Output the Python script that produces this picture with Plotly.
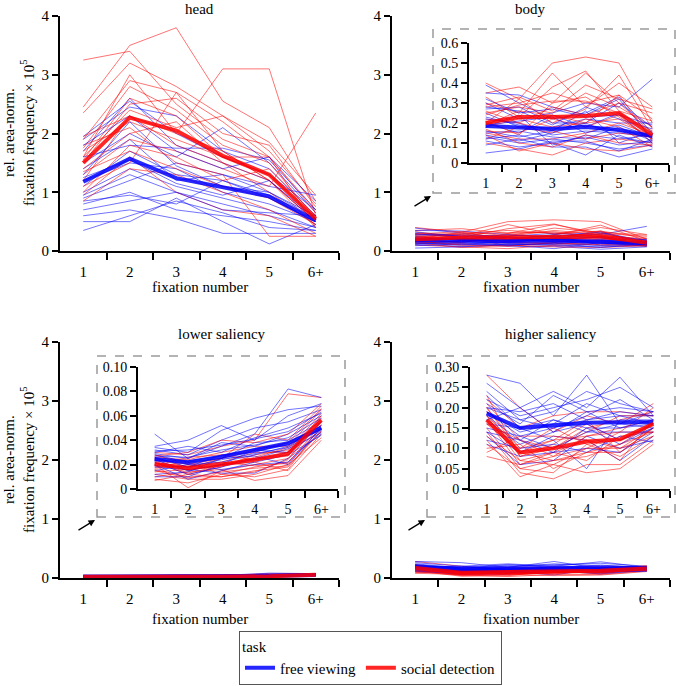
import plotly.graph_objects as go

W, H = 676, 686
FONT = "Liberation Serif"

fixation_labels = ["1", "2", "3", "4", "5", "6+"]
tasks = ["free viewing", "social detection"]

# ---- head ----
head_social = [
    [3.25, 3.40, 2.50, 1.90, 1.60, 0.70],
    [2.45, 3.50, 3.80, 2.55, 2.10, 0.85],
    [1.95, 2.30, 2.00, 3.10, 3.10, 0.60],
    [2.35, 3.20, 2.80, 2.30, 1.85, 0.95],
    [1.90, 2.90, 2.70, 2.20, 1.60, 0.65],
    [1.75, 2.80, 2.40, 1.80, 1.50, 0.55],
    [1.60, 3.00, 2.00, 1.70, 1.20, 0.40],
    [1.50, 2.50, 2.60, 2.00, 1.80, 0.75],
    [1.10, 1.50, 2.70, 1.70, 1.20, 0.50],
    [1.30, 1.90, 1.70, 1.40, 1.10, 2.35],
    [1.70, 2.20, 1.90, 1.60, 1.30, 0.55],
    [1.40, 2.00, 2.20, 1.50, 1.00, 0.45],
    [1.00, 1.80, 1.60, 1.20, 1.40, 0.60],
    [0.85, 1.40, 1.30, 1.00, 0.70, 0.30],
    [1.20, 2.30, 1.80, 1.50, 1.20, 0.50],
    [1.55, 2.60, 2.30, 1.60, 1.60, 0.40],
    [0.95, 1.60, 1.00, 0.70, 0.60, 0.25],
    [1.80, 2.10, 1.50, 1.30, 0.25, 0.25],
    [1.35, 1.70, 1.40, 1.10, 0.90, 0.45],
    [1.60, 2.40, 2.10, 2.30, 1.70, 0.80],
]
head_free = [
    [1.95, 2.55, 2.00, 1.60, 1.30, 0.70],
    [1.90, 2.45, 2.30, 1.70, 1.40, 0.60],
    [1.70, 2.60, 1.80, 1.50, 1.20, 0.50],
    [1.50, 2.00, 1.60, 2.10, 1.50, 0.65],
    [1.60, 1.80, 1.75, 1.75, 1.55, 0.70],
    [1.40, 1.90, 1.20, 1.30, 1.10, 0.95],
    [1.20, 1.50, 1.40, 1.00, 0.80, 0.50],
    [1.10, 1.70, 1.30, 1.20, 0.95, 0.45],
    [1.00, 1.40, 1.10, 0.90, 0.70, 0.40],
    [0.90, 1.20, 1.50, 1.30, 1.00, 0.55],
    [0.85, 0.95, 0.80, 1.20, 0.90, 0.50],
    [0.80, 1.00, 0.70, 0.60, 0.50, 0.35],
    [0.70, 0.85, 1.00, 0.80, 0.60, 0.40],
    [0.60, 0.70, 0.55, 0.30, 0.30, 0.30],
    [0.50, 0.50, 0.90, 0.50, 0.12, 0.45],
    [0.35, 0.60, 0.85, 0.65, 0.40, 0.35],
    [1.30, 2.20, 1.45, 1.10, 1.00, 0.60],
    [1.25, 1.55, 1.15, 0.95, 1.20, 0.55],
    [0.95, 1.30, 1.00, 0.70, 0.65, 0.60],
    [1.80, 2.30, 1.70, 1.40, 1.60, 0.85],
]
head_social_mean = [1.50, 2.27, 2.05, 1.62, 1.30, 0.55]
head_free_mean = [1.18, 1.57, 1.24, 1.09, 0.93, 0.52]

# ---- body ----
body_social = [
    [0.40, 0.32, 0.50, 0.53, 0.50, 0.20],
    [0.35, 0.38, 0.30, 0.45, 0.30, 0.25],
    [0.30, 0.25, 0.45, 0.28, 0.40, 0.28],
    [0.28, 0.30, 0.35, 0.30, 0.34, 0.22],
    [0.25, 0.28, 0.25, 0.35, 0.28, 0.18],
    [0.22, 0.20, 0.28, 0.24, 0.30, 0.15],
    [0.20, 0.32, 0.20, 0.27, 0.44, 0.17],
    [0.18, 0.22, 0.18, 0.20, 0.22, 0.12],
    [0.16, 0.15, 0.22, 0.18, 0.24, 0.10],
    [0.15, 0.12, 0.12, 0.15, 0.20, 0.14],
    [0.12, 0.18, 0.15, 0.22, 0.18, 0.08],
    [0.10, 0.07, 0.04, 0.10, 0.12, 0.10],
    [0.24, 0.29, 0.31, 0.31, 0.25, 0.16],
    [0.14, 0.06, 0.10, 0.07, 0.06, 0.09],
    [0.26, 0.20, 0.16, 0.12, 0.15, 0.13],
    [0.33, 0.23, 0.38, 0.46, 0.26, 0.21],
    [0.19, 0.26, 0.24, 0.20, 0.34, 0.11],
    [0.21, 0.14, 0.30, 0.33, 0.23, 0.12],
    [0.17, 0.10, 0.08, 0.14, 0.10, 0.09],
    [0.29, 0.33, 0.26, 0.39, 0.32, 0.27],
]
body_free = [
    [0.39, 0.30, 0.22, 0.25, 0.33, 0.15],
    [0.35, 0.34, 0.28, 0.24, 0.32, 0.12],
    [0.30, 0.22, 0.25, 0.30, 0.28, 0.42],
    [0.27, 0.28, 0.20, 0.20, 0.30, 0.18],
    [0.25, 0.18, 0.18, 0.22, 0.20, 0.20],
    [0.22, 0.20, 0.14, 0.16, 0.15, 0.13],
    [0.20, 0.15, 0.24, 0.18, 0.25, 0.10],
    [0.18, 0.24, 0.09, 0.14, 0.12, 0.14],
    [0.16, 0.13, 0.16, 0.26, 0.10, 0.16],
    [0.15, 0.16, 0.13, 0.12, 0.18, 0.11],
    [0.13, 0.10, 0.12, 0.10, 0.07, 0.09],
    [0.11, 0.08, 0.10, 0.04, 0.14, 0.08],
    [0.09, 0.12, 0.08, 0.08, 0.03, 0.07],
    [0.05, 0.07, 0.11, 0.11, 0.06, 0.12],
    [0.28, 0.26, 0.19, 0.28, 0.22, 0.17],
    [0.23, 0.19, 0.17, 0.19, 0.16, 0.14],
    [0.19, 0.21, 0.23, 0.15, 0.19, 0.13],
    [0.14, 0.11, 0.15, 0.20, 0.13, 0.10],
    [0.32, 0.25, 0.27, 0.23, 0.24, 0.19],
    [0.12, 0.14, 0.10, 0.13, 0.09, 0.11],
]
body_social_mean = [0.20, 0.23, 0.23, 0.235, 0.25, 0.14]
body_free_mean = [0.185, 0.175, 0.17, 0.18, 0.165, 0.135]

# ---- lower saliency ----
lower_social = [
    [0.030, 0.028, 0.035, 0.040, 0.078, 0.075],
    [0.028, 0.020, 0.025, 0.045, 0.040, 0.068],
    [0.026, 0.024, 0.030, 0.035, 0.035, 0.065],
    [0.025, 0.018, 0.022, 0.030, 0.030, 0.060],
    [0.024, 0.015, 0.020, 0.025, 0.028, 0.058],
    [0.022, 0.012, 0.018, 0.028, 0.032, 0.062],
    [0.020, 0.001, 0.015, 0.020, 0.025, 0.055],
    [0.018, 0.022, 0.012, 0.018, 0.022, 0.050],
    [0.016, 0.010, 0.010, 0.015, 0.018, 0.048],
    [0.014, 0.016, 0.020, 0.022, 0.015, 0.045],
    [0.012, 0.008, 0.008, 0.012, 0.020, 0.042],
    [0.010, 0.014, 0.016, 0.007, 0.011, 0.040],
    [0.008, 0.005, 0.012, 0.010, 0.016, 0.052],
    [0.007, 0.012, 0.010, 0.014, 0.024, 0.056],
    [0.021, 0.017, 0.025, 0.032, 0.038, 0.066],
    [0.019, 0.026, 0.028, 0.024, 0.027, 0.060],
    [0.023, 0.013, 0.019, 0.026, 0.034, 0.057],
    [0.017, 0.019, 0.022, 0.019, 0.021, 0.053],
    [0.027, 0.030, 0.040, 0.038, 0.045, 0.070],
    [0.015, 0.009, 0.014, 0.017, 0.019, 0.047],
]
lower_free = [
    [0.045, 0.025, 0.035, 0.045, 0.082, 0.075],
    [0.035, 0.040, 0.052, 0.040, 0.060, 0.070],
    [0.034, 0.030, 0.048, 0.058, 0.065, 0.068],
    [0.032, 0.028, 0.040, 0.050, 0.055, 0.065],
    [0.030, 0.035, 0.030, 0.042, 0.050, 0.062],
    [0.029, 0.025, 0.038, 0.035, 0.045, 0.060],
    [0.028, 0.022, 0.025, 0.038, 0.040, 0.055],
    [0.026, 0.018, 0.028, 0.030, 0.038, 0.052],
    [0.025, 0.020, 0.022, 0.028, 0.035, 0.050],
    [0.024, 0.015, 0.020, 0.032, 0.030, 0.048],
    [0.022, 0.012, 0.018, 0.025, 0.033, 0.046],
    [0.020, 0.008, 0.015, 0.022, 0.028, 0.044],
    [0.018, 0.016, 0.013, 0.013, 0.025, 0.045],
    [0.015, 0.020, 0.016, 0.020, 0.022, 0.047],
    [0.012, 0.014, 0.025, 0.027, 0.020, 0.050],
    [0.010, 0.010, 0.020, 0.024, 0.030, 0.055],
    [0.027, 0.026, 0.032, 0.036, 0.042, 0.058],
    [0.023, 0.023, 0.027, 0.033, 0.036, 0.052],
    [0.031, 0.032, 0.036, 0.041, 0.047, 0.063],
    [0.019, 0.018, 0.024, 0.029, 0.034, 0.049],
]
lower_social_mean = [0.0205, 0.017, 0.020, 0.024, 0.029, 0.0565]
lower_free_mean = [0.0245, 0.022, 0.0265, 0.032, 0.0375, 0.050]

# ---- higher saliency ----
higher_social = [
    [0.28, 0.20, 0.14, 0.18, 0.16, 0.21],
    [0.22, 0.15, 0.18, 0.19, 0.19, 0.18],
    [0.21, 0.12, 0.10, 0.15, 0.17, 0.19],
    [0.20, 0.10, 0.12, 0.13, 0.15, 0.17],
    [0.19, 0.08, 0.11, 0.16, 0.12, 0.16],
    [0.18, 0.07, 0.09, 0.12, 0.10, 0.15],
    [0.17, 0.06, 0.08, 0.10, 0.14, 0.14],
    [0.16, 0.09, 0.07, 0.08, 0.11, 0.16],
    [0.15, 0.05, 0.04, 0.11, 0.08, 0.13],
    [0.14, 0.04, 0.025, 0.06, 0.06, 0.12],
    [0.12, 0.03, 0.06, 0.04, 0.05, 0.11],
    [0.10, 0.11, 0.05, 0.09, 0.09, 0.15],
    [0.08, 0.06, 0.09, 0.07, 0.13, 0.14],
    [0.09, 0.13, 0.13, 0.12, 0.07, 0.17],
    [0.23, 0.08, 0.10, 0.14, 0.18, 0.18],
    [0.18, 0.10, 0.15, 0.11, 0.12, 0.16],
    [0.13, 0.07, 0.06, 0.10, 0.10, 0.13],
    [0.16, 0.12, 0.08, 0.13, 0.14, 0.20],
    [0.20, 0.09, 0.12, 0.17, 0.09, 0.15],
    [0.11, 0.05, 0.07, 0.09, 0.11, 0.14],
]
higher_free = [
    [0.28, 0.26, 0.18, 0.28, 0.16, 0.19],
    [0.26, 0.20, 0.24, 0.20, 0.275, 0.18],
    [0.22, 0.18, 0.20, 0.22, 0.25, 0.20],
    [0.21, 0.16, 0.23, 0.19, 0.20, 0.19],
    [0.20, 0.17, 0.15, 0.18, 0.22, 0.17],
    [0.19, 0.14, 0.16, 0.21, 0.18, 0.18],
    [0.18, 0.12, 0.17, 0.15, 0.15, 0.16],
    [0.17, 0.11, 0.14, 0.16, 0.12, 0.15],
    [0.16, 0.15, 0.12, 0.05, 0.17, 0.17],
    [0.15, 0.13, 0.10, 0.14, 0.14, 0.14],
    [0.14, 0.09, 0.13, 0.12, 0.07, 0.13],
    [0.13, 0.06, 0.07, 0.13, 0.10, 0.12],
    [0.12, 0.10, 0.11, 0.09, 0.13, 0.115],
    [0.11, 0.08, 0.09, 0.10, 0.09, 0.14],
    [0.20, 0.19, 0.21, 0.17, 0.19, 0.18],
    [0.23, 0.15, 0.17, 0.14, 0.16, 0.15],
    [0.17, 0.20, 0.14, 0.19, 0.15, 0.17],
    [0.24, 0.17, 0.19, 0.24, 0.21, 0.19],
    [0.19, 0.13, 0.15, 0.17, 0.18, 0.16],
    [0.14, 0.12, 0.09, 0.15, 0.11, 0.15],
]
higher_social_mean = [0.17, 0.09, 0.10, 0.117, 0.122, 0.16]
higher_free_mean = [0.186, 0.15, 0.157, 0.163, 0.164, 0.164]

main_ticks = [0, 1, 2, 3, 4]
body_inset_ticks = [0, 0.1, 0.2, 0.3, 0.4, 0.5, 0.6]
body_inset_labels = ["0", "0.1", "0.2", "0.3", "0.4", "0.5", "0.6"]
lower_inset_ticks = [0, 0.02, 0.04, 0.06, 0.08, 0.10]
lower_inset_labels = ["0", "0.02", "0.04", "0.06", "0.08", "0.10"]
higher_inset_ticks = [0, 0.05, 0.10, 0.15, 0.20, 0.25, 0.30]
higher_inset_labels = ["0", "0.05", "0.10", "0.15", "0.20", "0.25", "0.30"]

positions = list(range(1, len(fixation_labels) + 1))


def fx(px):
    return px / W


def fy(py):
    return 1 - py / H


def x_axis(x0, x1, anchor, size):
    return dict(
        domain=[fx(x0), fx(x1)], anchor=anchor, range=[0.5, 6.5],
        tickmode="array", tickvals=positions, ticktext=fixation_labels,
        ticks="outside", ticklen=6, tickcolor="rgba(0,0,0,0)",
        minor=dict(tickvals=[p + 0.5 for p in positions], ticks="outside",
                   ticklen=7, tickwidth=2, tickcolor="black"),
        showline=True, linecolor="black", linewidth=2,
        showgrid=False, zeroline=False, tickfont=dict(family=FONT, size=size),
    )


def y_axis(y0, y1, anchor, top, vals, labels, size):
    return dict(
        domain=[fy(y1), fy(y0)], anchor=anchor, range=[0, top],
        tickmode="array", tickvals=vals, ticktext=labels,
        ticks="outside", ticklen=6, tickwidth=2, tickcolor="black",
        showline=True, linecolor="black", linewidth=2,
        showgrid=False, zeroline=False, tickfont=dict(family=FONT, size=size),
    )


def label(text, x, y, **kw):
    fig.add_annotation(x=fx(x), y=fy(y), xref="paper", yref="paper", text=text,
                       xanchor="center", yanchor="middle", showarrow=False,
                       font=dict(family=FONT, size=15), **kw)


fig = go.Figure()

panels = [
    (head_free, head_social, head_free_mean, head_social_mean, [("x", "y")]),
    (body_free, body_social, body_free_mean, body_social_mean, [("x2", "y2"), ("x5", "y5")]),
    (lower_free, lower_social, lower_free_mean, lower_social_mean, [("x3", "y3"), ("x6", "y6")]),
    (higher_free, higher_social, higher_free_mean, higher_social_mean, [("x4", "y4"), ("x7", "y7")]),
]

first = True
for free, social, free_mean, social_mean, axes in panels:
    for xa, ya in axes:
        for s_line, f_line in zip(social, free):
            fig.add_trace(go.Scatter(x=positions, y=s_line, xaxis=xa, yaxis=ya, mode="lines",
                                     line=dict(color="rgba(255,0,0,0.55)", width=1), showlegend=False))
            fig.add_trace(go.Scatter(x=positions, y=f_line, xaxis=xa, yaxis=ya, mode="lines",
                                     line=dict(color="rgba(0,0,255,0.55)", width=1), showlegend=False))
        fig.add_trace(go.Scatter(x=positions, y=free_mean, xaxis=xa, yaxis=ya, mode="lines",
                                 name=tasks[0], line=dict(color="rgba(0,0,255,0.85)", width=4),
                                 showlegend=first))
        fig.add_trace(go.Scatter(x=positions, y=social_mean, xaxis=xa, yaxis=ya, mode="lines",
                                 name=tasks[1], line=dict(color="rgba(255,0,0,0.85)", width=4),
                                 showlegend=first))
        first = False

main_labels = [str(v) for v in main_ticks]

fig.update_layout(
    width=W, height=H,
    margin=dict(l=0, r=0, t=0, b=0, pad=0, autoexpand=False),
    paper_bgcolor="white", plot_bgcolor="white",
    font=dict(family=FONT, size=15, color="black"),
    xaxis=x_axis(60, 339, "y", 15),
    yaxis=y_axis(16, 251, "x", 4, main_ticks, main_labels, 15),
    xaxis2=x_axis(392, 670, "y2", 15),
    yaxis2=y_axis(16, 251, "x2", 4, main_ticks, main_labels, 15),
    xaxis3=x_axis(60, 339, "y3", 15),
    yaxis3=y_axis(342, 578, "x3", 4, main_ticks, main_labels, 15),
    xaxis4=x_axis(392, 670, "y4", 15),
    yaxis4=y_axis(342, 578, "x4", 4, main_ticks, main_labels, 15),
    xaxis5=x_axis(469, 669, "y5", 14),
    yaxis5=y_axis(43, 163, "x5", 0.6, body_inset_ticks, body_inset_labels, 14),
    xaxis6=x_axis(138, 338, "y6", 14),
    yaxis6=y_axis(367, 489, "x6", 0.10, lower_inset_ticks, lower_inset_labels, 14),
    xaxis7=x_axis(470, 670, "y7", 14),
    yaxis7=y_axis(367, 489, "x7", 0.30, higher_inset_ticks, higher_inset_labels, 14),
    legend=dict(
        orientation="h", x=fx(239), xanchor="left", y=fy(685), yanchor="bottom",
        bordercolor="#555555", borderwidth=1, bgcolor="white",
        title=dict(text="task", side="top", font=dict(family=FONT, size=15)),
        font=dict(family=FONT, size=15), itemwidth=30,
    ),
)

# dashed inset boxes
for x0, y0, x1, y1 in [(433, 29, 675, 193), (97, 356, 345, 517), (427, 356, 675, 517)]:
    fig.add_shape(type="rect", xref="paper", yref="paper",
                  x0=fx(x0), x1=fx(x1), y0=fy(y1), y1=fy(y0),
                  line=dict(color="#9a9a9a", width=1.5, dash="dash"))

# arrows pointing to inset boxes
for hx, hy in [(431, 196), (95, 520), (425, 520)]:
    fig.add_annotation(x=fx(hx), y=fy(hy), xref="paper", yref="paper", text="",
                       showarrow=True, ax=-18, ay=11, arrowhead=2, arrowsize=1,
                       arrowwidth=1.3, arrowcolor="black")

# panel titles
for text, x, y in [("head", 199, 9), ("body", 530, 9),
                   ("lower saliency", 222, 334), ("higher saliency", 551, 334)]:
    label(text, x, y)

# x axis titles
for x, y in [(200, 287), (531, 287), (200, 619), (531, 619)]:
    label("fixation number", x, y)

# y axis titles
for y in [133, 460]:
    label("rel. area-norm.<br>fixation frequency × 10<sup>5</sup>", 19, y, textangle=-90)

fig.write_html("out.html", config={"displayModeBar": False},
               post_script="document.body.style.margin='0';")
